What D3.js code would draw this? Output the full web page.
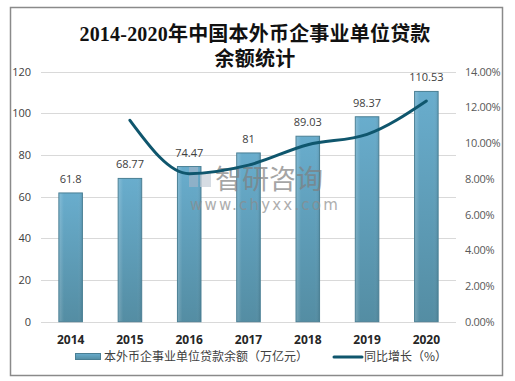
<!DOCTYPE html>
<html>
<head>
<meta charset="utf-8">
<script src="https://cdn.jsdelivr.net/npm/d3@7/dist/d3.min.js"></script>
<style>
  html, body { margin: 0; padding: 0; background: #fff; }
  svg { display: block; }
  text { font-family: "Microsoft YaHei", "Noto Sans CJK SC", "Noto Sans", sans-serif; }
</style>
</head>
<body>
<svg id="chart" width="515" height="381"></svg>
<script>
const years = ["2014", "2015", "2016", "2017", "2018", "2019", "2020"];
const loanBalance = [61.8, 68.77, 74.47, 81, 89.03, 98.37, 110.53];
const growthYears = ["2015", "2016", "2017", "2018", "2019", "2020"];
const growthRate = [11.28, 8.29, 8.77, 9.91, 10.49, 12.36];
const leftTicks = [0, 20, 40, 60, 80, 100, 120];
const rightTicks = [0, 2, 4, 6, 8, 10, 12, 14];
const titleLines = ["2014-2020年中国本外币企事业单位贷款", "余额统计"];
const legendLabels = ["本外币企事业单位贷款余额（万亿元）", "同比增长（%）"];

const svg = d3.select("#chart");
const W = 515, H = 381;

svg.append("rect").attr("x", 0).attr("y", 0).attr("width", W).attr("height", H).attr("fill", "#fff");
svg.append("rect").attr("x", 10.5).attr("y", 7.5).attr("width", 492).attr("height", 368)
  .attr("fill", "#fff").attr("stroke", "#8a8a8a").attr("stroke-width", 1.5);

const defs = svg.append("defs");
const grad = defs.append("linearGradient").attr("id", "barGrad")
  .attr("x1", 0).attr("y1", 0).attr("x2", 0).attr("y2", 1);
grad.append("stop").attr("offset", "0%").attr("stop-color", "#69adcd");
grad.append("stop").attr("offset", "100%").attr("stop-color", "#548da3");
const gradH = defs.append("linearGradient").attr("id", "barGradH")
  .attr("x1", 0).attr("y1", 0).attr("x2", 1).attr("y2", 0);
gradH.append("stop").attr("offset", "0%").attr("stop-color", "#ffffff").attr("stop-opacity", 0.18);
gradH.append("stop").attr("offset", "20%").attr("stop-color", "#ffffff").attr("stop-opacity", 0);
gradH.append("stop").attr("offset", "80%").attr("stop-color", "#ffffff").attr("stop-opacity", 0);
gradH.append("stop").attr("offset", "100%").attr("stop-color", "#000000").attr("stop-opacity", 0.08);

// Title
const title = svg.append("text").attr("text-anchor", "middle")
  .style("font-family", "'Liberation Serif', 'Noto Sans CJK SC', serif")
  .style("font-weight", "600").style("font-size", "20px").attr("fill", "#111")
  .style("letter-spacing", "0.2px");
title.selectAll("tspan").data(titleLines).join("tspan")
  .attr("x", 255).attr("y", (d, i) => 41 + i * 25).text(d => d);

// Scales
const x = d3.scaleBand().domain(years).range([41, 456]).paddingInner(0.586).paddingOuter(0.293);
const y = d3.scaleLinear().domain([0, 120]).range([321.7, 71.7]);
const y2 = d3.scaleLinear().domain([0, 14]).range([321.7, 71.7]);

// Gridlines
svg.append("g").selectAll("line").data(leftTicks).join("line")
  .attr("x1", 41).attr("x2", 456)
  .attr("y1", d => Math.round(y(d)) + 0.5).attr("y2", d => Math.round(y(d)) + 0.5)
  .attr("stroke", "#d9d9d9").attr("stroke-width", 1);

// Left axis
const leftAxis = svg.append("g").attr("transform", "translate(41,0)")
  .call(d3.axisLeft(y).tickValues(leftTicks).tickSize(0).tickPadding(10).tickFormat(d3.format("d")));
leftAxis.select(".domain").remove();
leftAxis.selectAll("text").style("font-size", "11px").attr("fill", "#404040")
  .style("font-family", "'Open Sans', 'Noto Sans', sans-serif");

// Right axis
const rightAxis = svg.append("g").attr("transform", "translate(456,0)")
  .call(d3.axisRight(y2).tickValues(rightTicks).tickSize(0).tickPadding(9).tickFormat(d => d3.format(".2f")(d) + "%"));
rightAxis.select(".domain").remove();
rightAxis.selectAll("text").style("font-size", "11px").attr("fill", "#595959")
  .style("font-family", "'Open Sans', 'Noto Sans', sans-serif").style("letter-spacing", "-0.3px");

// Bars
const data = years.map((yr, i) => ({ yr, v: loanBalance[i] }));
const bars = svg.append("g");
bars.selectAll("rect.bar").data(data).join("rect").attr("class", "bar")
  .attr("x", d => x(d.yr) + 0.5).attr("y", d => y(d.v))
  .attr("width", x.bandwidth() - 1).attr("height", d => y(0) - y(d.v))
  .attr("fill", "url(#barGrad)").attr("stroke", "#4a7f94").attr("stroke-width", 1);
bars.selectAll("rect.shade").data(data).join("rect").attr("class", "shade")
  .attr("x", d => x(d.yr) + 1).attr("y", d => y(d.v) + 0.5)
  .attr("width", x.bandwidth() - 2).attr("height", d => y(0) - y(d.v) - 1)
  .attr("fill", "url(#barGradH)");

// Value labels
svg.append("g").selectAll("text").data(data).join("text")
  .attr("x", d => x(d.yr) + x.bandwidth() / 2).attr("y", d => y(d.v) - 10)
  .attr("text-anchor", "middle").style("font-size", "11px").attr("fill", "#404040")
  .style("font-family", "'Open Sans', 'Noto Sans', sans-serif")
  .text(d => d.v);

// Watermark
const wm = svg.append("g").attr("opacity", 0.7);
wm.append("rect").attr("x", 189).attr("y", 167).attr("width", 9).attr("height", 20).attr("fill", "#9fb4c8");
wm.append("rect").attr("x", 200).attr("y", 172).attr("width", 11).attr("height", 15).attr("fill", "#c5ced8");
wm.append("text").attr("x", 215).attr("y", 189).style("font-size", "27px").attr("fill", "#7f7f7f")
  .text("智研咨询");
wm.append("text").attr("x", 190).attr("y", 210).style("font-size", "15px").attr("fill", "#8c8c8c")
  .style("letter-spacing", "2.2px").style("font-family", "'DejaVu Sans', sans-serif")
  .text("www.chyxx.com");

// Line
const lineData = growthYears.map((yr, i) => ({ yr, v: growthRate[i] }));
const line = d3.line().x(d => x(d.yr) + x.bandwidth() / 2).y(d => y2(d.v)).curve(d3.curveMonotoneX);
svg.append("path").datum(lineData).attr("d", line)
  .attr("fill", "none").attr("stroke", "#0f566d").attr("stroke-width", 3).attr("stroke-linecap", "round");

// X axis labels
svg.append("g").selectAll("text").data(years).join("text")
  .attr("x", d => x(d) + x.bandwidth() / 2).attr("y", 344)
  .attr("text-anchor", "middle").style("font-size", "12px").style("font-weight", "bold")
  .style("font-family", "'Open Sans', 'Noto Sans', sans-serif")
  .attr("fill", "#262626").text(d => d);

// Legend
const lg = svg.append("g");
lg.append("rect").attr("x", 75.5).attr("y", 353.5).attr("width", 25).attr("height", 6)
  .attr("fill", "url(#barGrad)").attr("stroke", "#4a7f94").attr("stroke-width", 1);
lg.append("text").attr("x", 104).attr("y", 361).style("font-size", "12px").attr("fill", "#404040")
  .text(legendLabels[0]);
lg.append("line").attr("x1", 334).attr("x2", 362).attr("y1", 357).attr("y2", 357)
  .attr("stroke", "#0f566d").attr("stroke-width", 3).attr("stroke-linecap", "round");
lg.append("text").attr("x", 364).attr("y", 361).style("font-size", "12px").attr("fill", "#404040")
  .text(legendLabels[1]);
</script>
</body>
</html>
